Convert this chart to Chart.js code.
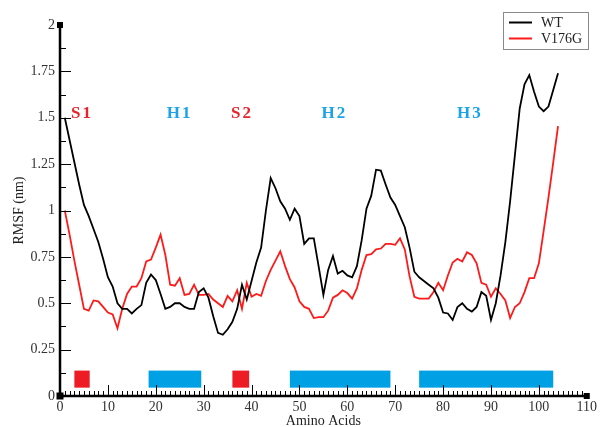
<!DOCTYPE html>
<html>
<head>
<meta charset="utf-8">
<script src="https://cdn.jsdelivr.net/npm/chart.js@4.4.1/dist/chart.umd.min.js"></script>
<style>
  html, body { margin: 0; padding: 0; background: #fff; }
  #wrap { width: 600px; height: 427px; }
</style>
</head>
<body>
<div id="wrap"><canvas id="c" width="600" height="427"></canvas></div>
<script>
// Residue numbers 1..104
const residues = Array.from({ length: 104 }, (_, i) => i + 1);

// Per-residue RMSF (nm), wild type
const wtRmsf = [
  1.50, 1.38, 1.26, 1.14, 1.03, 0.97, 0.90, 0.83, 0.74, 0.64,
  0.59, 0.50, 0.47, 0.47, 0.445, 0.47, 0.49, 0.61, 0.655, 0.625,
  0.55, 0.47, 0.48, 0.50, 0.50, 0.48, 0.47, 0.47, 0.56, 0.58,
  0.53, 0.43, 0.34, 0.33, 0.36, 0.40, 0.47, 0.60, 0.52, 0.62,
  0.72, 0.80, 1.00, 1.175, 1.12, 1.05, 1.01, 0.95, 1.01, 0.97,
  0.82, 0.85, 0.85, 0.70, 0.545, 0.68, 0.755, 0.66, 0.675, 0.65,
  0.64, 0.70, 0.84, 1.01, 1.08, 1.22, 1.215, 1.14, 1.07, 1.03,
  0.97, 0.91, 0.80, 0.67, 0.64, 0.62, 0.60, 0.58, 0.53, 0.45,
  0.445, 0.41, 0.48, 0.50, 0.47, 0.455, 0.48, 0.56, 0.54, 0.41,
  0.50, 0.65, 0.83, 1.05, 1.30, 1.55, 1.68, 1.73, 1.64, 1.56,
  1.535, 1.56, 1.65, 1.74
];

// Per-residue RMSF (nm), V176G mutant
const mutRmsf = [
  1.00, 0.87, 0.73, 0.60, 0.47, 0.46, 0.515, 0.51, 0.48, 0.45,
  0.44, 0.365, 0.47, 0.55, 0.59, 0.59, 0.635, 0.725, 0.735, 0.80,
  0.87, 0.76, 0.60, 0.595, 0.635, 0.545, 0.55, 0.60, 0.545, 0.545,
  0.55, 0.52, 0.50, 0.48, 0.54, 0.51, 0.57, 0.47, 0.61, 0.535,
  0.55, 0.54, 0.62, 0.68, 0.73, 0.78, 0.70, 0.63, 0.585, 0.51,
  0.48, 0.47, 0.42, 0.425, 0.425, 0.46, 0.53, 0.545, 0.57, 0.555,
  0.525, 0.58, 0.68, 0.76, 0.765, 0.79, 0.795, 0.82, 0.82, 0.815,
  0.85, 0.79, 0.645, 0.535, 0.525, 0.525, 0.525, 0.56, 0.61, 0.57,
  0.65, 0.72, 0.74, 0.725, 0.775, 0.76, 0.715, 0.61, 0.60, 0.535,
  0.58, 0.55, 0.515, 0.42, 0.48, 0.50, 0.56, 0.635, 0.635, 0.715,
  0.89, 1.07, 1.26, 1.455
];

const seriesNames = ['WT', 'V176G'];

// Axis ticks
const xTicks = [0, 10, 20, 30, 40, 50, 60, 70, 80, 90, 100, 110];
const yTicks = [0, 0.25, 0.5, 0.75, 1, 1.25, 1.5, 1.75, 2];
const yTickLabels = ['0', '0.25', '0.5', '0.75', '1', '1.25', '1.5', '1.75', '2'];

// Secondary structure elements (residue ranges)
const ssNames = ['S1', 'H1', 'S2', 'H2', 'H3'];
const ssKinds = ['strand', 'helix', 'strand', 'helix', 'helix'];
const ssStart = [3, 18.5, 36, 48, 75];
const ssEnd = [6.2, 29.5, 39.5, 69, 103];
const ssLabelAt = [4.6, 25, 38, 57.3, 85.6];

const points = arr => residues.map((r, i) => ({ x: r, y: arr[i] }));

const COLORS = {
  wt: '#000000',
  mut: '#ff1a1a',
  strand: '#ed1c24',
  helix: '#00a0e4',
  strandText: '#e8242b',
  helixText: '#1aa3e6',
  tickText: '#333333'
};
const SERIF = '"Liberation Serif", "DejaVu Serif", serif';

// Secondary-structure boxes near the baseline and the labels above the traces
const structurePlugin = {
  id: 'structure',
  beforeDatasetsDraw(chart) {
    const { ctx, scales: { x, y } } = chart;
    ctx.save();
    ssNames.forEach((name, i) => {
      const x0 = x.getPixelForValue(ssStart[i]);
      const x1 = x.getPixelForValue(ssEnd[i]);
      const yTop = y.getPixelForValue(0.137);
      const yBot = y.getPixelForValue(0.045);
      ctx.fillStyle = COLORS[ssKinds[i]];
      ctx.fillRect(x0, yTop, x1 - x0, yBot - yTop);
    });
    ctx.font = 'bold 17px ' + SERIF;
    ctx.textAlign = 'center';
    ctx.textBaseline = 'middle';
    if ('letterSpacing' in ctx) ctx.letterSpacing = '2px';
    ssNames.forEach((name, i) => {
      ctx.fillStyle = ssKinds[i] === 'strand' ? COLORS.strandText : COLORS.helixText;
      ctx.fillText(name, x.getPixelForValue(ssLabelAt[i]), y.getPixelForValue(1.52));
    });
    ctx.restore();
  }
};

// Axis lines with inward ticks, corner markers, titles and the legend box
const framePlugin = {
  id: 'frame',
  afterDraw(chart) {
    const { ctx, scales: { x, y } } = chart;
    const L = x.left, R = x.right, B = y.bottom, T = y.top;
    ctx.save();
    ctx.strokeStyle = '#000';
    ctx.fillStyle = '#000';

    // minor and major ticks
    ctx.lineWidth = 1;
    ctx.beginPath();
    for (let v = 1; v < 110; v++) {
      const px = Math.round(x.getPixelForValue(v)) + 0.5;
      const len = v % 10 === 0 ? 11 : 5;
      ctx.moveTo(px, B);
      ctx.lineTo(px, B - len);
    }
    for (let k = 1; k < 16; k++) {
      const v = k * 0.125;
      const py = Math.round(y.getPixelForValue(v)) + 0.5;
      const len = k % 2 === 0 ? 11 : 6;
      ctx.moveTo(L, py);
      ctx.lineTo(L + len, py);
    }
    ctx.stroke();

    // axis lines
    ctx.lineWidth = 2.5;
    ctx.beginPath();
    ctx.moveTo(L, T);
    ctx.lineTo(L, B);
    ctx.lineTo(R, B);
    ctx.stroke();

    // corner markers
    ctx.fillRect(L - 3.5, B - 3.5, 7, 7);
    ctx.fillRect(L - 3, T - 3, 6, 6);
    ctx.fillRect(R - 3, B - 3, 6, 6);

    // axis titles
    ctx.fillStyle = '#222';
    ctx.font = '14px ' + SERIF;
    ctx.textAlign = 'center';
    ctx.textBaseline = 'middle';
    ctx.fillText('Amino Acids', (L + R) / 2, 421);
    ctx.save();
    ctx.translate(19, (T + B) / 2);
    ctx.rotate(-Math.PI / 2);
    ctx.fillText('RMSF (nm)', 0, 0);
    ctx.restore();

    // legend
    const bx = 503, by = 12, bw = 85, bh = 37;
    ctx.lineWidth = 1;
    ctx.strokeStyle = '#8a8a8a';
    ctx.strokeRect(bx + 0.5, by + 0.5, bw, bh);
    const rows = [COLORS.wt, COLORS.mut];
    ctx.textAlign = 'left';
    ctx.font = '14px ' + SERIF;
    rows.forEach((c, i) => {
      const ly = by + 10.5 + i * 16;
      ctx.strokeStyle = c;
      ctx.lineWidth = 2;
      ctx.beginPath();
      ctx.moveTo(bx + 6, ly);
      ctx.lineTo(bx + 29, ly);
      ctx.stroke();
      ctx.fillStyle = '#222';
      ctx.fillText(seriesNames[i], bx + 38, ly + 1);
    });
    ctx.restore();
  }
};

new Chart(document.getElementById('c'), {
  type: 'line',
  data: {
    datasets: [
      {
        label: seriesNames[0],
        data: points(wtRmsf),
        borderColor: COLORS.wt,
        borderWidth: 1.8,
        pointRadius: 0,
        tension: 0
      },
      {
        label: seriesNames[1],
        data: points(mutRmsf),
        borderColor: COLORS.mut,
        borderWidth: 1.8,
        pointRadius: 0,
        tension: 0
      }
    ]
  },
  options: {
    responsive: false,
    animation: false,
    devicePixelRatio: 1,
    layout: { padding: { left: 0, right: 12, top: 25, bottom: 0 } },
    plugins: {
      legend: { display: false },
      tooltip: { enabled: false }
    },
    scales: {
      x: {
        type: 'linear',
        min: 0,
        max: 110,
        grid: { display: false, drawTicks: false },
        border: { display: false },
        afterBuildTicks: s => { s.ticks = xTicks.map(v => ({ value: v })); },
        afterFit: s => { s.height = 31; },
        ticks: {
          autoSkip: false,
          maxRotation: 0,
          padding: 3,
          color: COLORS.tickText,
          font: { family: SERIF, size: 14 }
        }
      },
      y: {
        type: 'linear',
        min: 0,
        max: 2,
        grid: { display: false, drawTicks: false },
        border: { display: false },
        afterBuildTicks: s => { s.ticks = yTicks.map(v => ({ value: v })); },
        afterFit: s => { s.width = 60; },
        ticks: {
          autoSkip: false,
          padding: 5,
          color: COLORS.tickText,
          font: { family: SERIF, size: 14 },
          callback: (v, i) => yTickLabels[i]
        }
      }
    }
  },
  plugins: [structurePlugin, framePlugin]
});
</script>
</body>
</html>
